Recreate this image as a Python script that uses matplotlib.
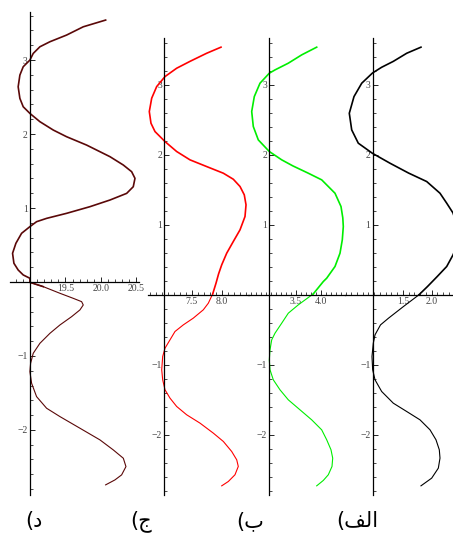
import numpy as np
import matplotlib.pyplot as plt

W, H = 453, 537

# panel "د" (dark red) : y values and x values
d_y = [3.541, 3.450, 3.338, 3.248, 3.180, 3.090, 3.000, 2.910, 2.797, 2.639, 2.482, 2.369,
       2.279, 2.167, 2.054, 1.964, 1.851, 1.694, 1.581, 1.491, 1.401, 1.288, 1.198, 1.108,
       1.018, 0.928, 0.860, 0.815, 0.748, 0.658, 0.523, 0.388, 0.253, 0.162, 0.095, 0.050,
       -0.005, -0.063, -0.153, -0.221, -0.266, -0.311, -0.378, -0.469, -0.581, -0.694,
       -0.829, -0.964, -1.099, -1.212, -1.369, -1.550, -1.707, -1.820, -1.977, -2.135,
       -2.270, -2.383, -2.496, -2.608, -2.676, -2.743]
d_x = [20.066, 19.751, 19.516, 19.282, 19.141, 19.047, 19.000, 18.906, 18.859, 18.835, 18.859, 18.906,
       19.000, 19.141, 19.329, 19.516, 19.798, 20.127, 20.315, 20.432, 20.479, 20.455, 20.362, 20.127,
       19.845, 19.516, 19.235, 19.094, 19.000, 18.883, 18.803, 18.756, 18.775, 18.835, 18.906, 19.000,
       19.000, 19.188, 19.423, 19.610, 19.728, 19.751, 19.704, 19.587, 19.423, 19.282,
       19.141, 19.047, 19.010, 19.000, 19.024, 19.094, 19.235, 19.423, 19.704, 19.986,
       20.173, 20.315, 20.352, 20.291, 20.197, 20.066]

# panel "ج" (red)
j_y = [3.539, 3.452, 3.336, 3.238, 3.119, 2.976, 2.810, 2.619, 2.452, 2.333, 2.190, 2.048,
       1.929, 1.833, 1.738, 1.652, 1.548, 1.429, 1.286, 1.119, 0.929, 0.762, 0.595, 0.429,
       0.300, 0.167, 0.014, -0.119, -0.214, -0.333, -0.429, -0.524, -0.643, -0.762, -0.881,
       -1.071, -1.214, -1.357, -1.476, -1.595, -1.714, -1.833, -1.976, -2.095, -2.238,
       -2.357, -2.452, -2.571, -2.667, -2.729]
j_x = [7.990, 7.751, 7.473, 7.251, 7.057, 6.918, 6.835, 6.795, 6.823, 6.890, 7.057, 7.251,
       7.473, 7.751, 8.029, 8.195, 8.307, 8.378, 8.407, 8.390, 8.307, 8.195, 8.085, 8.002,
       7.950, 7.907, 7.852, 7.779, 7.695, 7.528, 7.362, 7.223, 7.140, 7.057, 7.018,
       7.002, 7.018, 7.057, 7.140, 7.251, 7.418, 7.640, 7.862, 8.029, 8.168,
       8.252, 8.278, 8.223, 8.112, 8.002]

# panel "ب" (green)
b_y = [3.539, 3.429, 3.310, 3.214, 3.167, 3.024, 2.833, 2.619, 2.405, 2.214, 2.048, 1.929,
       1.843, 1.738, 1.643, 1.452, 1.262, 1.100, 0.976, 0.786, 0.595, 0.405, 0.238, 0.190,
       0.014, -0.143, -0.262, -0.405, -0.548, -0.643, -0.786, -0.929, -1.071, -1.214,
       -1.357, -1.500, -1.643, -1.786, -1.929, -2.071, -2.214, -2.333, -2.452, -2.571,
       -2.652, -2.729]
b_x = [3.918, 3.618, 3.350, 3.084, 2.970, 2.784, 2.670, 2.618, 2.650, 2.750, 2.970, 3.218,
       3.440, 3.750, 4.018, 4.284, 4.404, 4.440, 4.450, 4.430, 4.384, 4.284, 4.118, 4.050,
       3.850, 3.550, 3.350, 3.218, 3.084, 3.018, 2.984, 2.970, 2.984, 3.050,
       3.184, 3.350, 3.584, 3.818, 4.018, 4.118, 4.204, 4.238, 4.224, 4.150,
       4.050, 3.918]

# panel "الف" (black)
a_y = [3.539, 3.452, 3.336, 3.252, 3.170, 3.024, 2.833, 2.595, 2.357, 2.167, 2.024, 1.881,
       1.740, 1.619, 1.452, 1.310, 1.170, 0.980, 0.850, 0.700, 0.570, 0.405, 0.262, 0.119,
       0.000, -0.167, -0.333, -0.429, -0.571, -0.690, -0.881, -1.071, -1.214,
       -1.381, -1.548, -1.667, -1.786, -1.929, -2.071, -2.214, -2.333, -2.476, -2.619,
       -2.729]
a_x = [1.816, 1.567, 1.333, 1.130, 0.970, 0.782, 0.647, 0.565, 0.607, 0.722, 0.966, 1.275,
       1.600, 1.916, 2.148, 2.265, 2.375, 2.450, 2.470, 2.440, 2.375, 2.265, 2.100, 1.930,
       1.780, 1.510, 1.250, 1.110, 1.014, 0.984, 0.961, 0.973, 1.014,
       1.130, 1.333, 1.567, 1.799, 1.974, 2.078, 2.136, 2.148, 2.119, 2.003,
       1.816]

y_major = [-2, -1, 1, 2, 3]
y_labels = ['\u22122', '\u22121', '1', '2', '3']

d_xticks, d_xlabels = [19.5, 20.0, 20.5], ['19.5', '20.0', '20.5']
j_xticks, j_xlabels = [7.5, 8.0], ['7.5', '8.0']
b_xticks, b_xlabels = [3.5, 4.0], ['3.5', '4.0']
a_xticks, a_xlabels = [1.5, 2.0], ['1.5', '2.0']

panel_names = ['(\u062F', '(\u062C', '(\u0628', '(\uFED2\uFEDF\uFE8D']

fig = plt.figure(figsize=(W / 100, H / 100), dpi=100)


def panel(box, xlim, ylim, origin, xs, ys, color, xt, xl):
    l, r, t, b = box
    ax = fig.add_axes([l / W, 1 - b / H, (r - l) / W, (b - t) / H])
    ax.patch.set_alpha(0)
    ax.set_xlim(xlim)
    ax.set_ylim(ylim)
    ys = np.array(ys)
    xs = np.array(xs)
    up = ys >= -0.08
    lo = ys <= 0.02
    ax.plot(xs[up], ys[up], color=color, lw=1.2, solid_joinstyle='round')
    ax.plot(xs[lo], ys[lo], color=color, lw=0.8, solid_joinstyle='round')
    for s in ['top', 'right']:
        ax.spines[s].set_visible(False)
    ax.spines['left'].set_position(('data', origin))
    ax.spines['bottom'].set_position(('data', 0))
    ax.spines['left'].set_linewidth(0.9)
    ax.spines['bottom'].set_linewidth(0.9)
    ax.set_yticks(y_major)
    ax.set_yticklabels(y_labels)
    ax.set_yticks(np.round(np.arange(-2.8, 3.61, 0.2), 1), minor=True)
    ax.set_xticks(xt)
    ax.set_xticklabels(xl)
    ax.set_xticks(np.round(np.arange(np.ceil(xlim[0] * 10) / 10, xlim[1], 0.1), 1), minor=True)
    ax.tick_params(which='major', direction='in', length=3.5, width=0.6,
                   labelsize=7, labelcolor='#444444', pad=1.5)
    ax.tick_params(which='minor', direction='in', length=2, width=0.5)
    for lab in ax.get_xticklabels() + ax.get_yticklabels():
        lab.set_family('Liberation Serif')
    return ax


panel((10, 138.6, 12, 495), (18.72, 20.53), (-2.88, 3.65), 19.0,
      d_x, d_y, '#5a0808', d_xticks, d_xlabels)
panel((147.8, 248.6, 38, 495), (6.77, 8.45), (-2.86, 3.67), 7.04,
      j_x, j_y, '#ff0000', j_xticks, j_xlabels)
panel((248.3, 345.3, 38, 495), (2.55, 4.49), (-2.86, 3.67), 2.97,
      b_x, b_y, '#00ee00', b_xticks, b_xlabels)
panel((345, 453, 38, 495), (0.49, 2.375), (-2.86, 3.67), 0.97,
      a_x, a_y, 'black', a_xticks, a_xlabels)

for name, xc in zip(panel_names, [34, 141, 250, 357]):
    fig.text(xc / W, 1 - 521 / H, name, ha='center', va='center',
             fontsize=15, family='DejaVu Sans')

fig.savefig('out.png', dpi=100)
